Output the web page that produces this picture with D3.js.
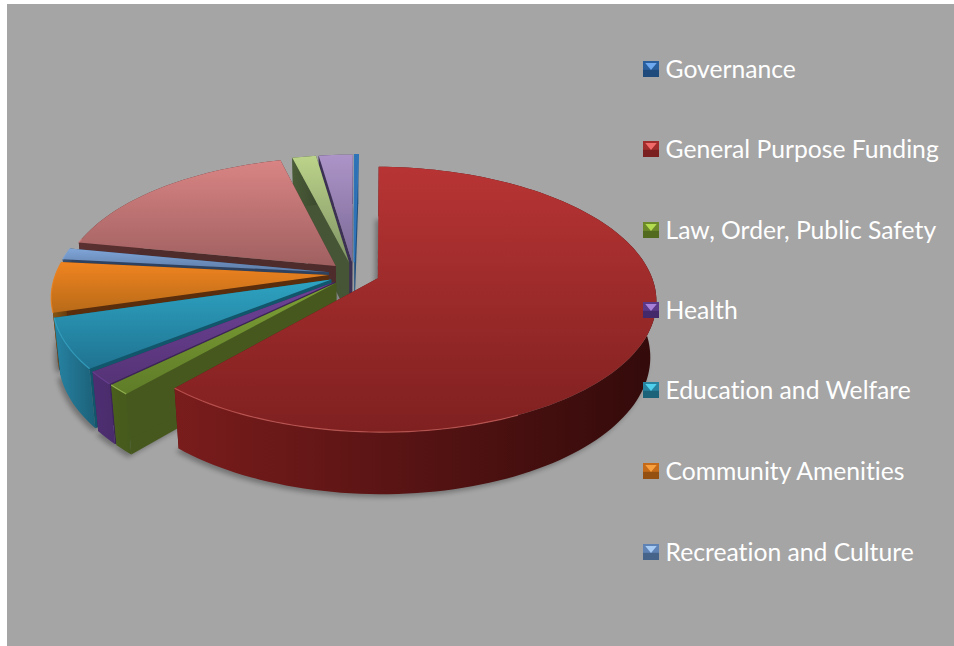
<!DOCTYPE html>
<html><head><meta charset="utf-8">
<script src="https://cdn.jsdelivr.net/npm/d3@7"></script>
<style>html,body{margin:0;padding:0;background:#fff}svg{display:block}text{font-variant-ligatures:none}</style>
</head><body><svg id="c" width="954" height="646"></svg>
<script>
// ---- data (percent of total), clockwise from 12 o'clock
const legendLabels = ["Governance","General Purpose Funding","Law, Order, Public Safety","Health","Education and Welfare","Community Amenities","Recreation and Culture"];
const values = [0.25,61.25,1.22,1.61,6.11,6.17,1.44,17.97,1.64,2.34];
// colours per slice: top-of-face, bottom-of-face, wall left, wall right, radial wall, rim
const topLight = ["#2f74b8","#b83434","#7ea136","#6f4398","#2ea3c2","#f08420","#80a6d8","#d98484","#bcd38a","#ad94c8"];
const topDark  = ["#2a66a2","#7f2020","#5f7c28","#553376","#1f7391","#b86a18","#5c7aa6","#a06060","#7f9465","#7a6996"];
const wallLeft = ["#1f4f80","#7a1c1c","#4a5f1c","#4e2f72","#2684a4","#8a5a14","#3a5070","#5a3030","#4a5c38","#3c3054"];
const wallRight= ["#1f4f80","#330a0a","#44591c","#4a2c6c","#1c6078","#6a3c0c","#304460","#4a2828","#3c4a2e","#3c3054"];
const radialC  = ["#1f4f80","#5a1414","#46581e","#3c2458","#12566c","#5a2e0c","#2e4260","#4e2c2c","#465536","#3c3054"];
const rimC     = ["#2f74b8","#c9605c","#a4c45c","#6f4398","#39a8c8","#f08420","#80a6d8","#d98484","#bcd38a","#ad94c8"];
const legendBase = ["#2a5f9e","#a02c2c","#6d8a2a","#5c3888","#27839f","#c46a18","#5f83b4"];
const legendHi   = ["#6ea8ee","#f06a6a","#b4dc50","#a880d8","#50d0ec","#f8a040","#a8ccf4"];
const legendLo   = ["#1f4a7c","#7a2020","#526a1e","#44296a","#1c6278","#945010","#46638a"];
const legendY = [69,149,230,310,390,471,552];

// projection of the exploded 3D pie
const Cx=354,Cy=274,A=273,B=128,K=0.158,M=0.02,H=56.3,EXPL=0.093;
const sx=d3.scaleLinear().domain([0,1]).range([Cx,Cx+A]);
const sy=d3.scaleLinear().domain([0,1]).range([Cy,Cy-1]);
function P(X,Y,Z){const w=1+K*Y-M*Z;return [sx(X/w),sy((B*Y+H*Z)/w)];}
const line=d3.line();

const svg=d3.select("#c");
const defs=svg.append("defs");
svg.append("rect").attr("x",7).attr("y",4).attr("width",947).attr("height",642).attr("fill","#a5a5a5");
defs.append("filter").attr("id","blur").attr("x","-20%").attr("y","-20%").attr("width","140%").attr("height","140%")
  .append("feGaussianBlur").attr("stdDeviation",2.6);

const pie=d3.pie().sort(null).value(d=>d).startAngle(0.1*Math.PI/180).endAngle(2*Math.PI+0.1*Math.PI/180);
const arcs=pie(values).map((a,i)=>{
  const mid=(a.startAngle+a.endAngle)/2;
  const ox=EXPL*Math.sin(mid),oy=EXPL*Math.cos(mid);
  const n=Math.max(3,Math.ceil((a.endAngle-a.startAngle)/0.03));
  const rim=d3.range(n+1).map(j=>{const t=a.startAngle+(a.endAngle-a.startAngle)*j/n;return [ox+Math.sin(t),oy+Math.cos(t)];});
  return {i,mid,ox,oy,rim};
});
arcs.forEach(s=>{
  const g1=defs.append("linearGradient").attr("id","t"+s.i).attr("x1",0).attr("y1",0).attr("x2",0).attr("y2",1);
  g1.append("stop").attr("offset",0).attr("stop-color",topLight[s.i]);
  g1.append("stop").attr("offset",1).attr("stop-color",topDark[s.i]);
  const g2=defs.append("linearGradient").attr("id","w"+s.i).attr("x1",0).attr("y1",0).attr("x2",1).attr("y2",0);
  g2.append("stop").attr("offset",0).attr("stop-color",wallLeft[s.i]);
  g2.append("stop").attr("offset",1).attr("stop-color",wallRight[s.i]);
});
// soft shadow of the bottom faces
const shadow=svg.append("g").attr("filter","url(#blur)").attr("transform","translate(-3,3)").attr("opacity",0.3);
arcs.forEach(s=>{
  const pts=[[s.ox,s.oy],...s.rim].map(p=>P(p[0],p[1],-1));
  shadow.append("path").attr("d",line(pts)+"Z").attr("fill","#000");
});
// far slices first, the big slice last
const order=arcs.slice().sort((a,b)=>{
  if(a.i===1)return 1; if(b.i===1)return -1;
  return Math.cos(b.mid)-Math.cos(a.mid);
});
const pieG=svg.append("g");
order.forEach(s=>{
  const g=pieG.append("g");
  const apexT=P(s.ox,s.oy,0),apexB=P(s.ox,s.oy,-1);
  const first=s.rim[0],last=s.rim[s.rim.length-1];
  [first,last].forEach(e=>{
    g.append("path").attr("d",line([apexT,P(e[0],e[1],0),P(e[0],e[1],-1),apexB])+"Z").attr("fill",radialC[s.i]);
  });
  const wall=[...s.rim.map(p=>P(p[0],p[1],0)),...s.rim.slice().reverse().map(p=>P(p[0],p[1],-1))];
  g.append("path").attr("d",line(wall)+"Z").attr("fill",`url(#w${s.i})`);
  const top=[apexT,...s.rim.map(p=>P(p[0],p[1],0))];
  g.append("path").attr("d",line(top)+"Z").attr("fill",`url(#t${s.i})`)
    .attr("stroke",s.i===0?topLight[0]:"none").attr("stroke-width",s.i===0?1.5:0);
  const near=s.rim.filter(p=>p[1]-s.oy<0.25&&p[0]-s.ox<0.45).map(p=>P(p[0],p[1],0));
  if(near.length>1) g.append("path").attr("d",line(near)).attr("fill","none").attr("stroke",rimC[s.i]).attr("stroke-width",1.2).attr("opacity",0.75);
});
// legend
const leg=svg.append("g");
legendLabels.forEach((t,i)=>{
  const x=643,y=legendY[i]-8,s=16,m=g=>g.map(p=>[x+p[0]*s,y+p[1]*s]);
  const g=leg.append("g");
  g.append("rect").attr("x",x).attr("y",y).attr("width",s).attr("height",s).attr("fill",legendBase[i]);
  g.append("path").attr("d",line(m([[0,.55],[.5,.55],[1,.55],[1,1],[0,1]]))+"Z").attr("fill",legendLo[i]);
  g.append("path").attr("d",line(m([[.14,.12],[.86,.12],[.5,.56]]))+"Z").attr("fill",legendHi[i]);
  leg.append("text").attr("x",665.5).attr("y",legendY[i]).attr("dy","0.35em")
    .attr("font-family","Lato, sans-serif").attr("font-size",24.7).attr("fill","#fff").text(t);
});
</script></body></html>
